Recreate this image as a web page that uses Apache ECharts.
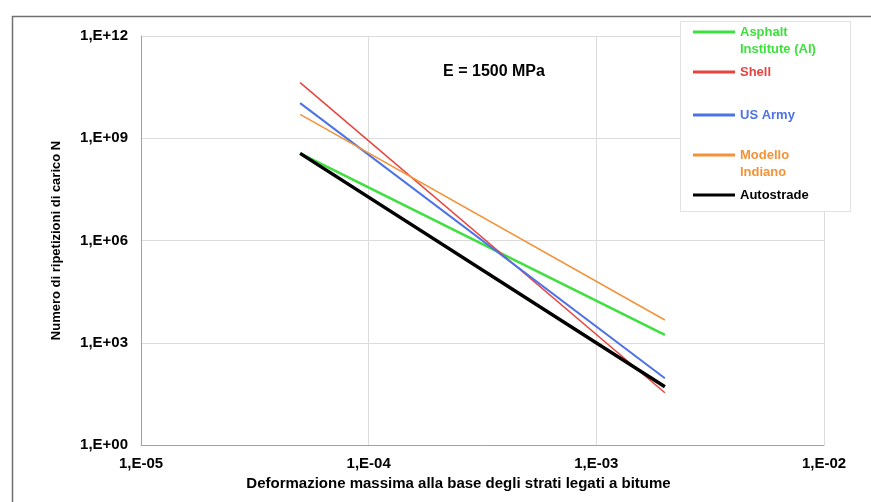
<!DOCTYPE html>
<html>
<head>
<meta charset="utf-8">
<script src="https://cdn.jsdelivr.net/npm/echarts@6/dist/echarts.min.js"></script>
<style>
html,body{margin:0;padding:0;background:#fff;}
#chart{width:871px;height:502px;}
</style>
</head>
<body>
<div id="chart"></div>
<script>
// Strain at base of bituminous layers (x) for start and end of each curve
const strainValues = [5e-5, 2e-3];
// Number of load repetitions N for each model
const asphaltInstitute = [3.6e8, 1.7e3];
const shell = [4.3e10, 34];
const usArmy = [1.07e10, 91];
const modelloIndiano = [5.0e9, 4.65e3];
const autostrade = [3.6e8, 51];
// Series names
const seriesNames = ['Asphalt\nInstitute (AI)', 'Shell', 'US Army', 'Modello\nIndiano', 'Autostrade'];
// Axis ranges / ticks
const xTicks = [1e-5, 1e-4, 1e-3, 1e-2];
const yTicks = [1, 1e3, 1e6, 1e9, 1e12];
const titleText = 'E = 1500 MPa';
const xAxisName = 'Deformazione massima alla base degli strati legati a bitume';
const yAxisName = 'Numero di ripetizioni di carico N';

const seriesValues = [asphaltInstitute, shell, usArmy, modelloIndiano, autostrade];
const colors = ['#3ee03e', '#e8433c', '#4c72e6', '#f39237', '#000000'];
const widths = [2.5, 1.5, 2, 1.5, 3.5];
const legendY = [32, 72, 115, 155, 195];

function fmtExp(v) {
  const e = Math.round(Math.log10(v));
  const s = e < 0 ? '-' : '+';
  const a = Math.abs(e);
  return '1,E' + s + (a < 10 ? '0' : '') + a;
}

const FONT = '"Liberation Sans", Arial, sans-serif';
const chart = echarts.init(document.getElementById('chart'), null, {renderer: 'canvas'});

const series = seriesNames.map((n, i) => ({
  name: n,
  type: 'line',
  symbol: 'none',
  showSymbol: false,
  silent: true,
  lineStyle: {color: colors[i], width: widths[i]},
  itemStyle: {color: colors[i]},
  data: strainValues.map((x, k) => [x, seriesValues[i][k]]),
  z: 3 + i
}));

const LH = 17;
const legends = seriesNames.map((n, i) => {
  const two = n.indexOf('\n') >= 0;
  return {
    data: [n],
    orient: 'vertical',
    left: 693,
    top: two ? legendY[i] - 1.5 * LH : legendY[i] - 0.5 * LH,
    padding: 0,
    itemWidth: 42,
    itemHeight: 3,
    itemGap: 0,
    selectedMode: false,
    icon: 'rect',
    z: 20,
    formatter: two ? (name => ' \n' + name) : (name => name),
    textStyle: {
      color: colors[i],
      fontFamily: FONT,
      fontWeight: 'bold',
      fontSize: 13,
      lineHeight: LH
    }
  };
});

chart.setOption({
  backgroundColor: '#ffffff',
  animation: false,
  grid: {left: 141, top: 36, right: 47, bottom: 57, containLabel: false},
  title: {
    text: titleText,
    left: 489, top: 59, textAlign: 'center',
    textStyle: {fontFamily: FONT, fontWeight: 'bold', fontSize: 16, color: '#000'}
  },
  legend: legends,
  xAxis: {
    type: 'log',
    logBase: 10,
    min: xTicks[0],
    max: xTicks[xTicks.length - 1],
    interval: 1,
    name: xAxisName,
    nameLocation: 'middle',
    nameGap: 29,
    nameTextStyle: {fontFamily: FONT, fontWeight: 'bold', fontSize: 15, color: '#000', padding: [0, 48, 0, 0]},
    axisLine: {show: true, lineStyle: {color: '#a0a0a0', width: 1}},
    axisTick: {show: false},
    axisLabel: {
      margin: 11,
      formatter: fmtExp,
      fontFamily: FONT, fontWeight: 'bold', fontSize: 15, color: '#000'
    },
    splitLine: {show: true, lineStyle: {color: '#dcdcdc', width: 1}}
  },
  yAxis: {
    type: 'log',
    logBase: 10,
    min: yTicks[0],
    max: yTicks[yTicks.length - 1],
    interval: 3,
    name: yAxisName,
    nameLocation: 'middle',
    nameGap: 78,
    nameRotate: 90,
    nameTextStyle: {fontFamily: FONT, fontWeight: 'bold', fontSize: 13, color: '#000'},
    axisLine: {show: true, lineStyle: {color: '#a0a0a0', width: 1}},
    axisTick: {show: false},
    axisLabel: {
      margin: 13,
      formatter: fmtExp,
      fontFamily: FONT, fontWeight: 'bold', fontSize: 15, color: '#000'
    },
    splitLine: {show: true, lineStyle: {color: '#dcdcdc', width: 1}}
  },
  graphic: [
    {type: 'rect', left: 10, top: 14, z: 0, silent: true,
     shape: {x: 0, y: 0, width: 860, height: 500},
     style: {fill: 'none', stroke: '#707070', lineWidth: 1.5}},
    {type: 'rect', left: 680, top: 21, z: 10, silent: true,
     shape: {x: 0, y: 0, width: 170, height: 190},
     style: {fill: '#ffffff', stroke: '#e2e2e2', lineWidth: 1}}
  ],
  series: series
});
</script>
</body>
</html>
